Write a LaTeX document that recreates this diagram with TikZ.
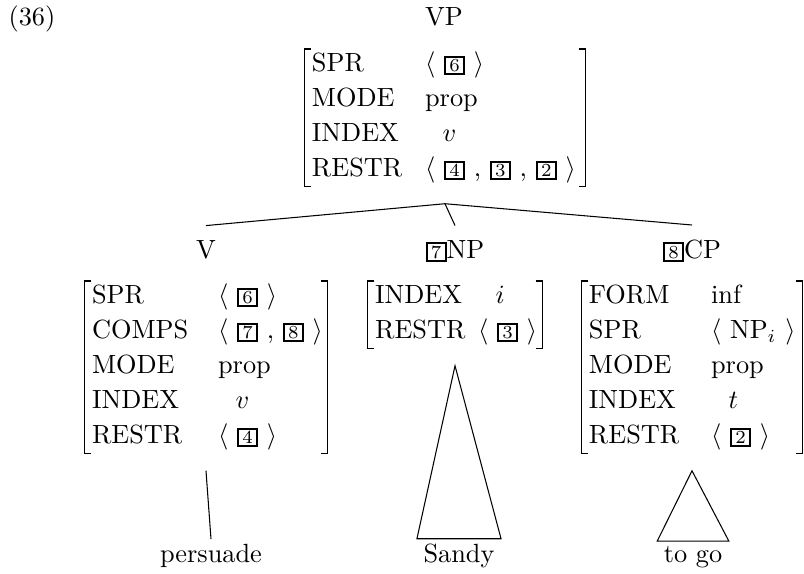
\documentclass[tikz,border=0pt]{standalone}
\usepackage{amsmath,amssymb}
\usepackage{xcolor}
\usepackage{tikz}
\newcommand{\boxnum}[1]{{\setlength{\fboxsep}{0.5pt}\setlength{\fboxrule}{0.8pt}\fbox{\hspace{0.7pt}\scriptsize #1\hspace{0.7pt}}}}
\tikzset{
  avm/.style={inner sep=0pt,anchor=north},
  lab/.style={anchor=base,inner xsep=0pt,inner ysep=5.3pt},
  leaf/.style={anchor=base,inner xsep=2.3pt,inner ysep=1.6pt},
  brk/.style={line width=0.6pt}
}

\begin{document}
\begin{tikzpicture}
\useasboundingbox (0,0) rectangle (10.738,-7.653);
\node[anchor=base west,inner sep=0pt] (ex) at (0.107,-0.334) {(36)};
\node[anchor=base,inner sep=0pt] (vp) at (5.930,-0.334) {VP};
\node[avm] (vpm) at (5.943,-0.654) {\begin{tabular}{@{\hspace{2.7pt}}p{43pt}@{}p{60.8pt}@{}}
SPR & $\langle$ \boxnum{6} $\rangle$\\[1.3pt]
MODE & prop\\[1.3pt]
INDEX & ~~$v$\\[1.3pt]
RESTR & $\langle$ \boxnum{4} , \boxnum{3} , \boxnum{2} $\rangle$
\end{tabular}};
% daughters
\node[lab] (vlab) at (2.751,-3.446) {V};
\node[avm] (vm) at (2.751,-3.753) {\begin{tabular}{@{\hspace{2.7pt}}p{47.9pt}@{}p{41.4pt}@{}}
SPR & $\langle$ \boxnum{6} $\rangle$\\[1.3pt]
COMPS & $\langle$ \boxnum{7} , \boxnum{8} $\rangle$\\[1.3pt]
MODE & prop\\[1.3pt]
INDEX & ~~$v$\\[1.3pt]
RESTR & $\langle$ \boxnum{4} $\rangle$
\end{tabular}};
\node[lab] (nplab) at (6.077,-3.446) {\boxnum{7}NP};
\node[avm] (npm) at (6.077,-3.753) {\begin{tabular}{@{\hspace{2.7pt}}p{39.1pt}@{}p{24.3pt}@{}}
INDEX & ~~$i$\\[1.3pt]
RESTR & $\langle$ \boxnum{3} $\rangle$
\end{tabular}};
\node[lab] (cplab) at (9.242,-3.446) {\boxnum{8}CP};
\node[avm] (cpm) at (9.242,-3.753) {\begin{tabular}{@{\hspace{2.7pt}}p{46.4pt}@{}p{34.6pt}@{}}
FORM & inf\\[1.3pt]
SPR & $\langle$ NP$_i$ $\rangle$\\[1.3pt]
MODE & prop\\[1.3pt]
INDEX & ~~$t$\\[1.3pt]
RESTR & $\langle$ \boxnum{2} $\rangle$
\end{tabular}};
% words
\node[leaf] (persuade) at (2.818,-7.506) {persuade};
\node[leaf] (sandy) at (6.130,-7.506) {Sandy};
\node[leaf] (togo) at (9.256,-7.506) {to go};
% brackets
\foreach \m in {vpm,vm,npm,cpm}{
  \draw[brk] ([xshift=2.6pt]\m.north west) -- (\m.north west) -- (\m.south west) -- ([xshift=2.6pt]\m.south west);
  \draw[brk] ([xshift=-2.6pt]\m.north east) -- (\m.north east) -- (\m.south east) -- ([xshift=-2.6pt]\m.south east);
}
% branches
\coordinate (vpb) at ([yshift=-6.5pt]vpm.south);
\foreach \d in {vlab,nplab,cplab}{\draw (vpb) -- (\d.north);}
\draw ([yshift=-6.5pt]vm.south) -- (persuade.north);
\draw ([yshift=-6.5pt]npm.south) -- (sandy.north west) -- (sandy.north east) -- cycle;
\draw ([yshift=-6.5pt]cpm.south) -- (togo.north west) -- (togo.north east) -- cycle;
\end{tikzpicture}
\end{document}
